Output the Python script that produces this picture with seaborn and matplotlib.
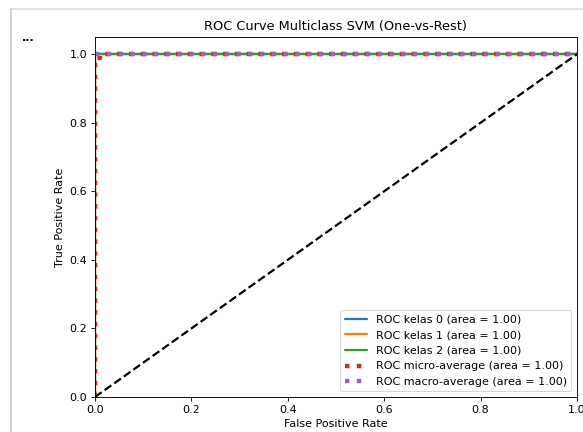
import seaborn as sns
import pandas as pd
import numpy as np
import matplotlib.pyplot as plt
from matplotlib.lines import Line2D

# ROC points per class (all perfect) and the averages
fpr_kelas0 = [0.0, 0.0, 1.0]
tpr_kelas0 = [0.0, 1.0, 1.0]
fpr_kelas1 = [0.0, 0.0, 1.0]
tpr_kelas1 = [0.0, 1.0, 1.0]
fpr_kelas2 = [0.0, 0.0, 1.0]
tpr_kelas2 = [0.0, 1.0, 1.0]
fpr_micro = [0.0, 0.0, 0.011, 0.011, 1.0]
tpr_micro = [0.0, 0.99, 0.99, 1.0, 1.0]
fpr_macro = [0.0, 1.0]
tpr_macro = [1.0, 1.0]
auc_values = [1.00, 1.00, 1.00]
auc_micro = 1.00
auc_macro = 1.00

sns.set_style('ticks', rc={'text.color': 'black', 'axes.labelcolor': 'black',
                           'xtick.color': 'black', 'ytick.color': 'black',
                           'axes.edgecolor': 'black'})
plt.rcParams['font.family'] = ['DejaVu Sans']

fig = plt.figure(figsize=(583 / 80, 432 / 80), dpi=80)
ax = fig.add_axes([95 / 583, 35 / 432, 482 / 583, 360 / 432])

curves = [(fpr_kelas0, tpr_kelas0, 'tab:blue'),
          (fpr_kelas1, tpr_kelas1, 'tab:orange'),
          (fpr_kelas2, tpr_kelas2, 'tab:green')]
for i, (fpr, tpr, color) in enumerate(curves):
    sns.lineplot(x=fpr, y=tpr, ax=ax, color=color, lw=2, estimator=None, sort=False,
                 label=f'ROC kelas {i} (area = {auc_values[i]:.2f})')

sns.lineplot(x=fpr_micro, y=tpr_micro, ax=ax, color='tab:red', linestyle=':', lw=4,
             estimator=None, sort=False, label=f'ROC micro-average (area = {auc_micro:.2f})')
sns.lineplot(x=fpr_macro, y=tpr_macro, ax=ax, color='tab:purple', linestyle=':', lw=4,
             estimator=None, sort=False, label=f'ROC macro-average (area = {auc_macro:.2f})')
sns.lineplot(x=[0, 1], y=[0, 1], ax=ax, color='black', linestyle='--', lw=2,
             estimator=None, sort=False)

ax.set_xlim(0.0, 1.0)
ax.set_ylim(0.0, 1.05)
ax.set_xlabel('False Positive Rate')
ax.set_ylabel('True Positive Rate')
ax.set_title('ROC Curve Multiclass SVM (One-vs-Rest)', fontsize=11.6)
for s in ax.spines.values():
    s.set_visible(True)
ax.legend(loc='lower right', fontsize=10)

# notebook output frame
fig.add_artist(Line2D([10 / 583, 1.0], [1 - 9 / 432, 1 - 9 / 432], color='#dcdcdc', lw=1.5))
fig.add_artist(Line2D([11 / 583, 11 / 583], [0.0, 1 - 9 / 432], color='#c8c8c8', lw=1.5))
fig.text(22 / 583, 1 - 38 / 432, '...', fontsize=10, fontweight='bold', va='center')

fig.savefig('out.png', dpi=80)
